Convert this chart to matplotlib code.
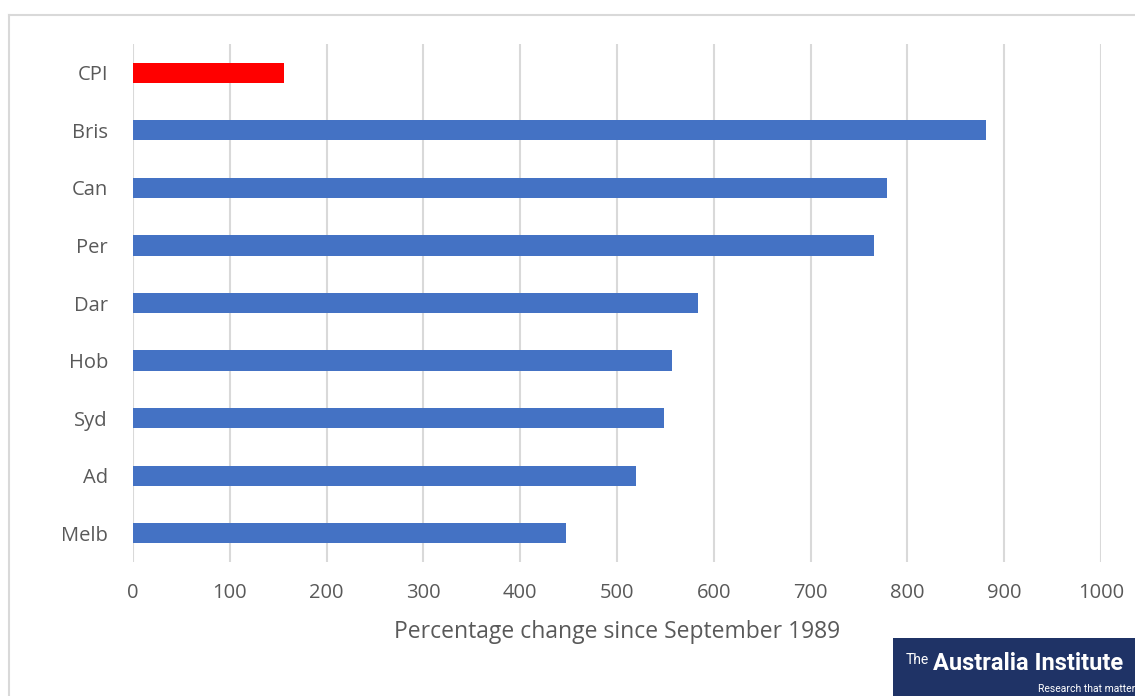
import matplotlib.pyplot as plt
from matplotlib.patches import Rectangle
from matplotlib.lines import Line2D

# data (top to bottom as drawn)
cities = ["CPI", "Bris", "Can", "Per", "Dar", "Hob", "Syd", "Ad", "Melb"]
pct_change = [156, 881, 779, 766, 584, 557, 549, 520, 447]
bar_colours = ["#ff0000"] + ["#4472c4"] * 8
x_ticks = [0, 100, 200, 300, 400, 500, 600, 700, 800, 900, 1000]

plt.rcParams['font.family'] = ['Open Sans', 'DejaVu Sans']

fig = plt.figure(figsize=(11.35, 6.96), dpi=100)
ax = fig.add_axes([133 / 1135, 1 - 562 / 696, (1101 - 133) / 1135, (562 - 44) / 696])

ypos = list(range(len(cities)))
ax.barh(ypos, pct_change, height=0.35, color=bar_colours, zorder=3)

ax.set_xlim(0, 1000)
ax.set_ylim(len(cities) - 0.5, -0.5)
ax.set_yticks(ypos)
ax.set_yticklabels(cities)
ax.set_xticks(x_ticks)
ax.tick_params(length=0, labelsize=14.5, colors="#595959")
ax.tick_params(axis="y", pad=18)
ax.tick_params(axis="x", pad=15)
ax.grid(axis="x", color="#d9d9d9", linewidth=1.5, zorder=0)
for s in ax.spines.values():
    s.set_visible(False)
ax.set_xlabel("Percentage change since September 1989", fontsize=16.5,
              color="#595959", labelpad=12)

# outer chart border
fig.add_artist(Line2D([9 / 1135, 1.0], [1 - 15 / 696, 1 - 15 / 696],
                      color="#d9d9d9", linewidth=1.5))
fig.add_artist(Line2D([9 / 1135, 9 / 1135], [0, 1 - 15 / 696],
                      color="#d9d9d9", linewidth=1.5))

# logo box
fig.add_artist(Rectangle((893 / 1135, 0), 1 - 893 / 1135, 58 / 696,
                         facecolor="#1f3366", edgecolor="none"))
fig.text(906 / 1135, 1 - 664 / 696, "The", color="white", fontsize=10,
         family="Roboto", va="baseline")
fig.text(933 / 1135, 1 - 670 / 696, "Australia Institute", color="white",
         fontsize=17, family="Roboto", weight="bold", va="baseline")
fig.text(1.0, 1 - 692 / 696, "Research that matter", color="white",
         fontsize=7.5, family="Roboto", ha="right", va="baseline")

fig.savefig("out.png", dpi=100)
